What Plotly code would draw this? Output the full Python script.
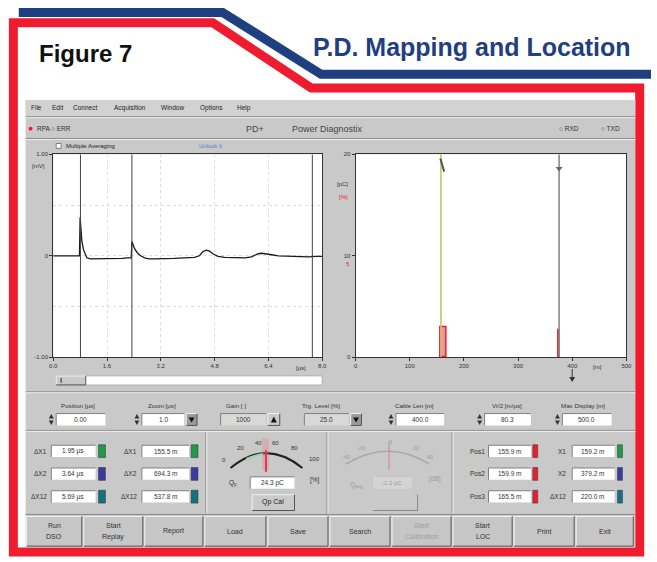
import plotly.graph_objects as go

W, H = 657, 562

# ---------------- data ----------------
time_us = [0.0, 0.4, 0.78, 0.80, 0.82, 0.85, 0.90, 0.95, 1.00, 1.10,
           1.25, 1.45, 1.65, 1.85, 2.05, 2.20, 2.32, 2.34, 2.37, 2.42,
           2.50, 2.60, 2.72, 2.85, 3.00, 3.30, 3.60, 3.90, 4.20, 4.35,
           4.45, 4.55, 4.65, 4.75, 4.90, 5.10, 5.40, 5.70, 5.90, 6.00,
           6.10, 6.20, 6.35, 6.50, 6.70, 7.00, 7.30, 7.60, 7.80, 8.00]
amplitude = [0.0, 0.0, 0.0, 0.38, 0.30, 0.15, 0.06, 0.01, -0.02, -0.03,
             -0.03, -0.03, -0.025, -0.03, -0.025, -0.02, -0.02, 0.14, 0.11, 0.07,
             0.03, 0.0, -0.02, -0.03, -0.03, -0.03, -0.025, -0.02, -0.015, 0.0,
             0.04, 0.055, 0.045, 0.02, -0.005, -0.015, -0.02, -0.02, -0.01, 0.005,
             0.02, 0.025, 0.02, 0.01, 0.0, -0.005, -0.005, -0.01, -0.005, -0.005]
cursor_times_us = [0.81, 2.34, 7.71]
trigger_level = 0.25
time_ticks = [0.0, 1.6, 3.2, 4.8, 6.4, 8.0]
time_tick_labels = ["0.0", "1.6", "3.2", "4.8", "6.4", "8.0"]
amp_ticks = [-1.0, 0.0, 1.0]
amp_tick_labels = ["-1.00", "0", "1.00"]
amp_minor_ticks = [-0.5, 0.5]

loc_ticks_m = [0, 100, 200, 300, 400, 500]
loc_bar_pos_m = [162.0, 375.5]
loc_bar_width_m = [11.0, 3.0]
loc_bar_pc = [2.9, 2.6]
loc_cursor_m = [157.6, 375.8]
loc_threshold_pc = 3.2
charge_ticks = [0, 10, 20]
charge_tick_labels = ["0", "10", "20"]

menu_items = ["File", "Edit", "Connect", "Acquisition", "Window", "Options", "Help"]
menu_x = [25, 47, 68, 110, 157, 197, 235]
ctrl_labels = ["Position [µs]", "Zoom [µs]", "Gain [ ]", "Trg. Level [%]", "Cable Len [m]", "Vr/2 [m/µs]", "Max Display [m]"]
ctrl_values = ["0.00", "1.0", "1000", "25.0", "400.0", "80.3", "500.0"]
dx_labels = ["ΔX1", "ΔX2", "ΔX12"]
dx_time = ["1.95 µs", "3.64 µs", "5.69 µs"]
dx_dist = ["155.5 m", "694.3 m", "537.8 m"]
pos_labels = ["Pos1", "Pos2", "Pos3"]
pos_values = ["155.9 m", "159.9 m", "165.5 m"]
x_labels = ["X1", "X2", "ΔX12"]
x_values = ["159.2 m", "379.2 m", "220.0 m"]
gauge1_labels = ["0", "20", "40", "60", "80", "100"]
gauge2_labels = ["-40", "-20", "0", "20", "40"]
buttons = [["Run", "DSO"], ["Start", "Replay"], ["Report"], ["Load"], ["Save"], ["Search"],
           ["Start", "Calibration"], ["Start", "LOC"], ["Print"], ["Exit"]]

# ---------------- helpers ----------------
UI = "Liberation Sans, Arial, sans-serif"
NARROW = "Liberation Sans Narrow, Arial Narrow, Liberation Sans, Arial"
shapes, annotations = [], []


def px(x):
    return x / W


def py(y):
    return 1 - y / H


def rect(x0, y0, x1, y1, fill=None, line=None, lw=1, layer="below"):
    shapes.append(dict(type="rect", xref="paper", yref="paper",
                       x0=px(x0), x1=px(x1), y0=py(y1), y1=py(y0),
                       fillcolor=fill or "rgba(0,0,0,0)",
                       line=dict(color=line or "rgba(0,0,0,0)", width=lw if line else 0),
                       layer=layer))


def seg(x0, y0, x1, y1, color, lw=1, dash=None, layer="below"):
    shapes.append(dict(type="line", xref="paper", yref="paper",
                       x0=px(x0), y0=py(y0), x1=px(x1), y1=py(y1),
                       line=dict(color=color, width=lw, dash=dash), layer=layer))


def path(d, fill=None, line=None, lw=1, layer="below"):
    shapes.append(dict(type="path", xref="paper", yref="paper", path=d,
                       fillcolor=fill or "rgba(0,0,0,0)",
                       line=dict(color=line or "rgba(0,0,0,0)", width=lw if line else 0),
                       layer=layer))


def P(x, y):
    return f"{px(x):.5f},{py(y):.5f}"


def txt(x, y, s, size=7, color="#333333", anchor="center", family=UI):
    annotations.append(dict(x=px(x), y=py(y), xref="paper", yref="paper", text=s,
                            showarrow=False, xanchor=anchor, yanchor="middle",
                            font=dict(size=size, color=color, family=family)))


def sunken(x0, y0, x1, y1, fill="white"):
    rect(x0, y0, x1, y1, fill=fill)
    seg(x0, y0, x1, y0, "#808080")
    seg(x0, y0, x0, y1, "#808080")


def raised(x0, y0, x1, y1, fill="#cacaca"):
    rect(x0, y0, x1, y1, fill=fill)
    seg(x0, y0, x1, y0, "#f2f2f2")
    seg(x0, y0, x0, y1, "#f2f2f2")
    seg(x1, y0, x1, y1, "#555555")
    seg(x0, y1, x1, y1, "#555555")


def spinner(x, y0, y1):
    ym = (y0 + y1) / 2
    path(f"M {P(x - 2.5, ym - 1)} L {P(x + 2.5, ym - 1)} L {P(x, y0 + 0.5)} Z", fill="#333")
    path(f"M {P(x - 2.5, ym + 1)} L {P(x + 2.5, ym + 1)} L {P(x, y1 - 0.5)} Z", fill="#333")


RED = "#ee1c2e"
BLUE = "#1f3f80"
GRAY = "#c9c9c9"

# ---------------- page decoration ----------------
path("M " + " L ".join(P(x, y) for x, y in [(15, 9.5), (222, 9.5), (322, 72), (657, 72)]),
     line=BLUE, lw=9)
path("M " + " L ".join(P(x, y) for x, y in [(9.5, 555), (9.5, 20), (212, 20), (312, 86),
                                              (645.5, 86), (645.5, 555)]) + " Z",
     line=RED, lw=9)
txt(34, 51, "<b>Figure 7</b>", size=24, color="#111111", anchor="left", family=NARROW)
txt(639, 44, "<b>P.D. Mapping and Location</b>", size=25, color=BLUE, anchor="right",
    family=NARROW)

# ---------------- UI window ----------------
rect(22, 98, 641, 550, fill=GRAY)
rect(22, 98, 641, 114, fill="#d2d2d2")
for item, mx in zip(menu_items, menu_x):
    txt(mx, 106, item, size=6.5, color="#222", anchor="left")
seg(22, 115, 641, 115, "#8a8a8a")
seg(22, 116, 641, 116, "#eeeeee")
shapes.append(dict(type="circle", xref="paper", yref="paper", x0=px(25), x1=px(29),
                   y0=py(129), y1=py(125), fillcolor=RED, line=dict(width=0)))
txt(31, 127, "RPA", size=6.5, anchor="left")
txt(46, 127, "○ ERR", size=6.5, anchor="left")
txt(244, 127, "PD+", size=9, color="#444", anchor="left")
txt(290, 127, "Power Diagnostix", size=9, color="#444", anchor="left")
txt(562, 127, "○ RXD", size=6.5, anchor="left")
txt(604, 127, "○ TXD", size=6.5, anchor="left")
seg(22, 137, 641, 137, "#8a8a8a")
seg(22, 138, 641, 138, "#eeeeee")
rect(53, 142, 58, 147, fill="white", line="#666", lw=0.8)
txt(61, 145, "Multiple Averaging", size=6, color="#222", anchor="left")
txt(196, 145, "Unlock it", size=6, color="#4a7fd0", anchor="left")

# plot areas (white backgrounds)
rect(50, 153, 323, 358, fill="white")
rect(357, 153, 632, 358, fill="white")

txt(35, 165, "[mV]", size=6, color="#333")
txt(302, 369, "[µs]", size=6, color="#333")
rect(53, 377, 323, 386, fill="white", line="#999", lw=0.6)
raised(53, 377, 83, 386)
seg(58, 379, 58, 384, "#333", lw=1)

txt(344, 183, "[pC]", size=6, color="#333")
txt(345, 196, "[%]", size=6, color=RED)
txt(349, 264, "5", size=6, color=RED)
txt(603, 368, "[m]", size=6, color="#333")
seg(577, 370, 577, 380, "#333", lw=1)
path(f"M {P(574, 378)} L {P(580, 378)} L {P(577, 383)} Z", fill="#333")

# ---------------- control row ----------------
seg(22, 393, 641, 393, "#8a8a8a")
seg(22, 394, 641, 394, "#eeeeee")
ctrl_boxes = [(53, 103), (140, 183), (220, 266), (305, 350), (398, 447), (488, 535), (567, 617)]
ctrl_label_x = [75, 160, 236, 322, 417, 511, 588]
spin = [True, True, False, False, True, True, True]
for lab, val, (b0, b1), lx, sp in zip(ctrl_labels, ctrl_values, ctrl_boxes, ctrl_label_x, spin):
    txt(lx, 407, lab, size=6.2, color="#333")
    sunken(b0, 415, b1, 427, fill="white" if sp else "#d8d8d8")
    txt((b0 + b1) / 2, 421, val, size=6.5, color="#333")
    if sp:
        spinner(b0 - 5, 415, 427)
raised(185, 415, 196, 427, fill="#9a9a9a")
path(f"M {P(187.5, 419)} L {P(193.5, 419)} L {P(190.5, 424)} Z", fill="#111")
raised(268, 415, 280, 427)
path(f"M {P(271, 424)} L {P(277, 424)} L {P(274, 418)} Z", fill="#111")
raised(352, 415, 363, 427, fill="#9a9a9a")
path(f"M {P(354.5, 419)} L {P(360.5, 419)} L {P(357.5, 424)} Z", fill="#111")
seg(22, 432, 641, 432, "#8a8a8a")
seg(22, 433, 641, 433, "#eeeeee")

# ---------------- bottom panels ----------------
for sx in [205, 328, 455]:
    seg(sx, 434, sx, 516, "#8a8a8a")
    seg(sx + 1, 434, sx + 1, 516, "#eeeeee")
row_y = [453, 476, 499]
dx_cols = ["#1f9a48", "#3a3ca0", "#16707e"]
for i in range(3):
    y = row_y[i]
    txt(46, y, dx_labels[i], size=6.5, anchor="right")
    sunken(48, y - 6, 93, y + 6)
    txt(70.5, y, dx_time[i], size=6.5)
    rect(96, y - 6.5, 103, y + 6.5, fill=dx_cols[i], line="#333", lw=0.5)
    txt(137, y, dx_labels[i], size=6.5, anchor="right")
    sunken(140, y - 6, 188, y + 6)
    txt(164, y, dx_dist[i], size=6.5)
    rect(190, y - 6.5, 197, y + 6.5, fill=dx_cols[i], line="#333", lw=0.5)
    txt(490, y, pos_labels[i], size=6.5, anchor="right")
    sunken(492, y - 6, 535, y + 6)
    txt(513.5, y, pos_values[i], size=6.5)
    rect(537, y - 6.5, 542, y + 6.5, fill=RED, line="#333", lw=0.5)
    txt(573, y, x_labels[i], size=6.5, anchor="right")
    sunken(577, y - 6, 620, y + 6)
    txt(598.5, y, x_values[i], size=6.5)
    rect(623, y - 6.5, 628, y + 6.5, fill=dx_cols[i], line="#333", lw=0.5)

# gauge 1
path(f"M {P(230, 470)} Q {P(266, 440)} {P(303, 470)}", line="#222", lw=2.2)
path(f"M {P(246, 461)} Q {P(255, 457)} {P(263, 456)}", line="#9bd3a8", lw=2.2)
rect(262, 440, 269, 472, fill="rgba(240,120,140,0.35)")
seg(266, 452, 266, 474, "#e2384e", lw=2)
g1_pos = [(223, 462), (240, 450), (258, 445), (276, 445), (295, 450), (315, 461)]
for lab, (gx, gy) in zip(gauge1_labels, g1_pos):
    txt(gx, gy, lab, size=6)
txt(233, 485, "Q<sub>p</sub>", size=6.5)
txt(316, 482, "[%]", size=6.5)
sunken(250, 479, 295, 491)
txt(272.5, 485, "24.3 pC", size=6.5)
raised(252, 497, 295, 513)
txt(273.5, 504, "Qp Cal", size=7, color="#222")

# gauge 2 (disabled)
FADE = "#9a9a9a"
path(f"M {P(347, 466)} Q {P(390, 440)} {P(432, 466)}", line="#a8a8a8", lw=1.5)
seg(391, 444, 391, 472, "rgba(220,120,140,0.6)", lw=1.5)
g2_pos = [(347, 459), (363, 450), (392, 444), (418, 450), (433, 459)]
for lab, (gx, gy) in zip(gauge2_labels, g2_pos):
    txt(gx, gy, lab, size=5.5, color=FADE)
txt(358, 487, "Q<sub>avg</sub>", size=6.5, color=FADE)
txt(438, 481, "[dB]", size=6.5, color=FADE)
rect(375, 479, 414, 491, fill="#d4d4d4")
txt(394.5, 485, "-1.2 pC", size=6, color=FADE)
seg(420, 497, 420, 513, "#777", lw=0.8)
seg(375, 513, 420, 513, "#777", lw=0.8)

# ---------------- button row ----------------
seg(22, 517, 641, 517, "#8a8a8a")
btn_edges = [22, 80, 142, 203, 267, 330, 393, 455, 517, 580, 640]
for i, lines in enumerate(buttons):
    x0, x1 = btn_edges[i], btn_edges[i + 1]
    raised(x0 + 1, 519, x1 - 1, 549, fill="#c6c6c6")
    col = "#a0a0a0" if "Calibration" in lines else "#333333"
    cx = (x0 + x1) / 2
    if len(lines) == 1:
        txt(cx, 534, lines[0], size=7, color=col)
    else:
        txt(cx, 528.5, lines[0], size=7, color=col)
        txt(cx, 539.5, lines[1], size=7, color=col)

# ---------------- traces ----------------
fig = go.Figure()
fig.add_trace(go.Scatter(x=time_us, y=amplitude, mode="lines",
                         line=dict(color="#1a1a1a", width=1.3), xaxis="x", yaxis="y",
                         hoverinfo="skip"))
for t in cursor_times_us:
    fig.add_trace(go.Scatter(x=[t, t], y=[-1, 1], mode="lines",
                             line=dict(color="#444444", width=1), xaxis="x", yaxis="y",
                             hoverinfo="skip"))
fig.add_trace(go.Scatter(x=[8.25], y=[trigger_level], mode="markers",
                         marker=dict(symbol="triangle-left", size=8, color=RED),
                         cliponaxis=False, xaxis="x", yaxis="y", hoverinfo="skip"))

fig.add_trace(go.Bar(x=loc_bar_pos_m, y=loc_bar_pc, width=loc_bar_width_m,
                     marker=dict(color="rgba(238,60,70,0.55)", line=dict(color=RED, width=1.5)),
                     xaxis="x2", yaxis="y2", hoverinfo="skip"))
line_cols = ["#c3c56e", "#8a8a8a"]
for m, c in zip(loc_cursor_m, line_cols):
    fig.add_trace(go.Scatter(x=[m, m], y=[0, 20], mode="lines",
                             line=dict(color=c, width=1.6), xaxis="x2", yaxis="y2",
                             hoverinfo="skip"))
fig.add_trace(go.Scatter(x=[loc_cursor_m[0] - 1, loc_cursor_m[0] + 6],
                         y=[19.6, 18.3], mode="lines",
                         line=dict(color="#555", width=2), xaxis="x2", yaxis="y2",
                         hoverinfo="skip"))
fig.add_trace(go.Scatter(x=[loc_cursor_m[1]], y=[18.6], mode="markers",
                         marker=dict(symbol="triangle-down", size=6, color="#666"),
                         xaxis="x2", yaxis="y2", hoverinfo="skip"))
fig.add_trace(go.Scatter(x=[512], y=[loc_threshold_pc], mode="markers",
                         marker=dict(symbol="triangle-left", size=8, color=RED),
                         cliponaxis=False, xaxis="x2", yaxis="y2", hoverinfo="skip"))

axis_font = dict(size=6, color="#333333", family=UI)
fig.update_layout(
    width=W, height=H, margin=dict(l=0, r=0, t=0, b=0),
    paper_bgcolor="white", plot_bgcolor="rgba(0,0,0,0)",
    showlegend=False, bargap=0,
    shapes=shapes, annotations=annotations,
    xaxis=dict(domain=[50 / W, 323 / W], range=[0, 8], tickvals=time_ticks,
               ticktext=time_tick_labels, showgrid=True, gridcolor="#dcdcdc",
               griddash="dot", showline=True, linecolor="#333", mirror=True,
               ticks="outside", ticklen=3, tickcolor="#333", tickfont=axis_font,
               zeroline=False, fixedrange=True),
    yaxis=dict(domain=[1 - 358 / H, 1 - 153 / H], range=[-1, 1], tickvals=amp_ticks,
               ticktext=amp_tick_labels, showgrid=True, gridcolor="#dcdcdc",
               griddash="dot", showline=True, linecolor="#333", mirror=True,
               ticks="outside", ticklen=3, tickcolor="#333", tickfont=axis_font,
               minor=dict(tickvals=amp_minor_ticks, showgrid=True, gridcolor="#dcdcdc",
                          griddash="dot"),
               zeroline=False, fixedrange=True),
    xaxis2=dict(domain=[357 / W, 632 / W], range=[0, 500], tickvals=loc_ticks_m,
                showgrid=False, showline=True, linecolor="#333", mirror=True,
                ticks="outside", ticklen=3, tickcolor="#333", tickfont=axis_font,
                zeroline=False, anchor="y2", fixedrange=True),
    yaxis2=dict(domain=[1 - 358 / H, 1 - 153 / H], range=[0, 20], tickvals=charge_ticks,
                ticktext=charge_tick_labels, showgrid=False, showline=True,
                linecolor="#333", mirror=True, ticks="outside", ticklen=3,
                tickcolor="#333", tickfont=axis_font, zeroline=False, anchor="x2",
                fixedrange=True),
)

fig.write_html("out.html", config={"displayModeBar": False},
               post_script="document.body.style.margin='0';document.body.style.overflow='hidden';")
